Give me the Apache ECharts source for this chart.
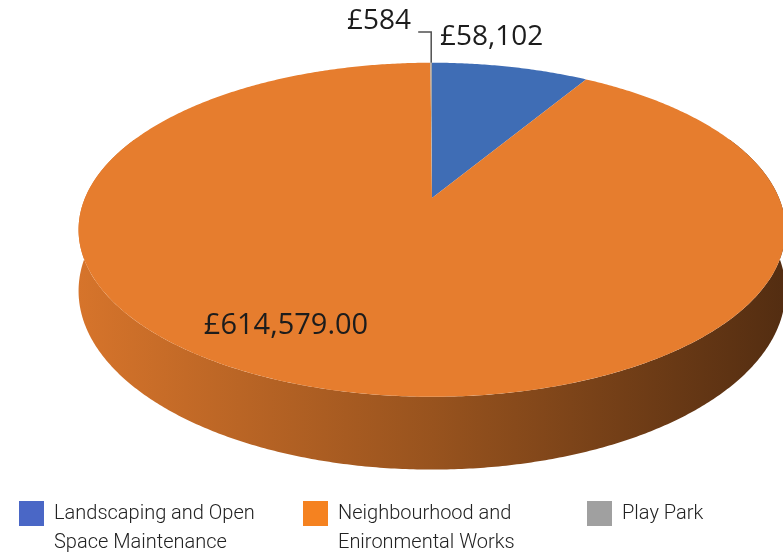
<!DOCTYPE html>
<html>
<head>
<meta charset="utf-8">
<script src="https://cdn.jsdelivr.net/npm/echarts@6/dist/echarts.min.js"></script>
<style>
  html, body { margin: 0; padding: 0; background: #fff; }
  #main { width: 783px; height: 553px; }
</style>
</head>
<body>
<div id="main"></div>
<script>
var categories = ['Landscaping and Open\nSpace Maintenance', 'Neighbourhood and\nEnironmental Works', 'Play Park'];
var values = [58102, 614579, 584];
var decimals = [0, 2, 0];
var sliceColors = ['#3f6db5', '#e67d2e', '#a5a5a5'];
var legendColors = ['#4a67c6', '#f58220', '#a0a0a0'];

// tilted disc seen in perspective: centre, half axes, perspective factor, wall depth
var cx = 432, cy = 198, ax = 347, ay = 161, persp = 0.19, depth = 59;
// label placement; 'leader' draws the elbow line
var labelLayout = [
  { x: 440, y: 37, align: 'left', size: 28 },
  { x: 286, y: 326, align: 'center', size: 29 },
  { x: 411, y: 21, align: 'right', size: 28, leader: true }
];

var total = values.reduce(function (s, v) { return s + v; }, 0);
var startAngle = [];
var acc = 0;
for (var i = 0; i < values.length; i++) {
  startAngle.push(acc / total * Math.PI * 2);
  acc += values[i];
}

// theta runs clockwise from 12 o'clock; bottom = point on the lower rim
function pt(theta, bottom) {
  var u = Math.sin(theta), v = -Math.cos(theta);
  var w = 1 - persp * v;
  return [cx + ax * u / w, cy + ay * v / w + (bottom ? depth / w : 0)];
}
function arc(a, b, bottom) {
  var pts = [];
  var n = Math.max(2, Math.ceil((b - a) / (Math.PI / 360)));
  for (var k = 0; k <= n; k++) pts.push(pt(a + (b - a) * k / n, bottom));
  return pts;
}
function shade(hex, f) {
  var r = parseInt(hex.substr(1, 2), 16), g = parseInt(hex.substr(3, 2), 16), b = parseInt(hex.substr(5, 2), 16);
  return 'rgb(' + Math.round(r * f) + ',' + Math.round(g * f) + ',' + Math.round(b * f) + ')';
}
function money(v, d) {
  return '£' + v.toLocaleString('en-GB', { minimumFractionDigits: d, maximumFractionDigits: d });
}

function makeRender(idx) {
  return function (params, api) {
    var a = startAngle[idx];
    var b = a + api.value(0) / total * Math.PI * 2;
    var color = sliceColors[idx];
    var children = [];
    // wall: front half plus a bit past the sides so the silhouette stays smooth
    var wa = Math.max(a, Math.PI / 2 - 0.4), wb = Math.min(b, Math.PI * 1.5 + 0.4);
    if (wb > wa) {
      var pts = arc(wa, wb, false).concat(arc(wa, wb, true).reverse());
      children.push({
        type: 'polygon',
        z2: 1,
        shape: { points: pts },
        style: {
          fill: new echarts.graphic.LinearGradient(0, 0, 1, 0, [
            { offset: 0, color: shade(color, 0.93) },
            { offset: 0.5, color: shade(color, 0.66) },
            { offset: 1, color: shade(color, 0.36) }
          ])
        }
      });
    }
    // top face
    children.push({
      type: 'polygon',
      z2: 10,
      shape: { points: [[cx, cy]].concat(arc(a, b, false)) },
      style: { fill: color }
    });
    // label
    var lay = labelLayout[idx];
    if (lay.leader) {
      var rim = pt((a + b) / 2, false);
      children.push({
        type: 'polyline',
        z2: 20,
        shape: { points: [rim, [rim[0], 32], [rim[0] - 13, 32]] },
        style: { stroke: '#505050', lineWidth: 1.5, fill: null }
      });
    }
    children.push({
      type: 'text',
      z2: 30,
      style: {
        x: lay.x, y: lay.y,
        text: money(api.value(0), decimals[idx]),
        fill: '#1c1c1c',
        font: lay.size + 'px "Open Sans"',
        align: lay.align,
        verticalAlign: 'middle'
      }
    });
    return { type: 'group', children: children };
  };
}

var legendLeft = [19, 303, 587];
var myChart = echarts.init(document.getElementById('main'));
var option = {
  backgroundColor: '#fff',
  animation: false,
  legend: categories.map(function (name, i) {
    var multi = name.indexOf('\n') >= 0;
    return {
      data: [{ name: name, itemStyle: { color: legendColors[i] } }],
      left: legendLeft[i],
      top: multi ? 470 : 499,
      padding: 0,
      icon: 'rect',
      itemWidth: 25,
      itemHeight: 25,
      selectedMode: false,
      // an empty first line keeps the first text line level with the square
      formatter: function (n) { return multi ? '\n' + n : n; },
      textStyle: {
        fontFamily: 'Roboto',
        fontWeight: 300,
        fontSize: 20,
        lineHeight: 29,
        color: '#222',
        padding: [0, 0, 0, 5]
      }
    };
  }),
  series: categories.map(function (name, i) {
    return {
      type: 'custom',
      name: name,
      coordinateSystem: 'none',
      itemStyle: { color: sliceColors[i] },
      renderItem: makeRender(i),
      data: [values[i]]
    };
  })
};
myChart.setOption(option);
</script>
</body>
</html>
